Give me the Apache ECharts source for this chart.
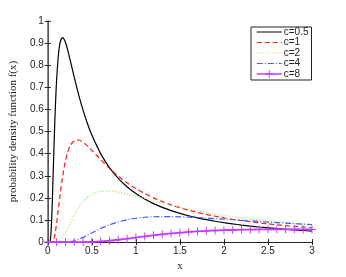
<!DOCTYPE html>
<html>
<head>
<meta charset="utf-8">
<script src="https://cdn.jsdelivr.net/npm/echarts@6/dist/echarts.min.js"></script>
<style>
html,body{margin:0;padding:0;background:#fff;}
#chart{width:346px;height:277px;}
</style>
</head>
<body>
<div id="chart"></div>
<script>
// x positions for the fine-sampled curves (c=0.5, c=1)
var xFine = [0, 0.02, 0.03, 0.04, 0.05, 0.06, 0.07, 0.08, 0.09, 0.10, 0.12, 0.14, 0.16, 0.17, 0.18, 0.20, 0.22, 0.25, 0.30, 0.35, 0.40, 0.45, 0.50,
  0.6, 0.7, 0.8, 0.9, 1.0, 1.1, 1.2, 1.3, 1.4, 1.5, 1.6, 1.7, 1.8, 1.9, 2.0, 2.1, 2.2, 2.3, 2.4, 2.5, 2.6, 2.7, 2.8, 2.9, 3.0];
var yC05 = [0, 0.0004, 0.0130, 0.0681, 0.170, 0.2976, 0.4282, 0.5478, 0.6496, 0.7322, 0.8450, 0.9028, 0.9239, 0.9247, 0.9211, 0.9036, 0.8775, 0.8302, 0.7461, 0.6669, 0.5968, 0.5362, 0.4839,
  0.4002, 0.3370, 0.2884, 0.2503, 0.2197, 0.1948, 0.1742, 0.1570, 0.1424, 0.1300, 0.1192, 0.1099, 0.1017, 0.0944, 0.0880, 0.0823, 0.0772, 0.0725, 0.0684, 0.0646, 0.0611, 0.0580, 0.0551, 0.0524, 0.0499];
var yC1 = [0, 0, 0, 0.0002, 0.0016, 0.0065, 0.0170, 0.0340, 0.0571, 0.0850, 0.1488, 0.2140, 0.2739, 0.3005, 0.3248, 0.3661, 0.3983, 0.4319, 0.4586, 0.4617, 0.4518, 0.4351, 0.4151,
  0.3731, 0.3335, 0.2984, 0.2681, 0.2420, 0.2195, 0.2001, 0.1832, 0.1685, 0.1556, 0.1442, 0.1341, 0.1251, 0.1171, 0.1098, 0.1033, 0.0974, 0.0920, 0.0871, 0.0826, 0.0785, 0.0747, 0.0712, 0.0680, 0.0650];

// x positions for the coarse-sampled curves (c=2, c=4, c=8)
var xCoarse = [0, 0.1, 0.2, 0.3, 0.4, 0.5, 0.6, 0.7, 0.8, 0.9, 1.0, 1.1, 1.2, 1.3, 1.4, 1.5, 1.6, 1.7, 1.8, 1.9, 2.0,
  2.1, 2.2, 2.3, 2.4, 2.5, 2.6, 2.7, 2.8, 2.9, 3.0];
var yC2 = [0, 0.0008, 0.0425, 0.1225, 0.1831, 0.2160, 0.2293, 0.2309, 0.2259, 0.2175, 0.2076, 0.1970, 0.1865, 0.1764, 0.1667, 0.1577, 0.1492, 0.1413, 0.1340, 0.1273, 0.1210,
  0.1152, 0.1097, 0.1047, 0.1000, 0.0957, 0.0916, 0.0878, 0.0842, 0.0809, 0.0778];
var yC4 = [0, 0, 0.0004, 0.0062, 0.0213, 0.0413, 0.0612, 0.0782, 0.0915, 0.1013, 0.1080, 0.1123, 0.1146, 0.1156, 0.1154, 0.1145, 0.1130, 0.1110, 0.1088, 0.1063, 0.1038,
  0.1012, 0.0985, 0.0959, 0.0933, 0.0907, 0.0882, 0.0857, 0.0834, 0.0811, 0.0788];
var yC8 = [0, 0, 0, 0, 0.0002, 0.0011, 0.0031, 0.0064, 0.0106, 0.0155, 0.0207, 0.0258, 0.0306, 0.0351, 0.0391, 0.0427, 0.0458, 0.0484, 0.0506, 0.0525, 0.0540,
  0.0552, 0.0561, 0.0568, 0.0573, 0.0576, 0.0578, 0.0578, 0.0577, 0.0575, 0.0572];

var seriesNames = ['c=0.5', 'c=1', 'c=2', 'c=4', 'c=8'];
var seriesColors = ['#000000', '#ff1a1a', '#8fe85a', '#3b5cff', '#c23cff'];
var xTicks = [0, 0.5, 1, 1.5, 2, 2.5, 3];
var yTicks = [0, 0.1, 0.2, 0.3, 0.4, 0.5, 0.6, 0.7, 0.8, 0.9, 1];

function pairs(xs, ys) { return xs.map(function (x, i) { return [x, ys[i]]; }); }

var dashTypes = ['solid', [5, 3], [1, 2], [6, 2, 1, 2], 'solid'];
var tickFont = { fontFamily: 'Liberation Sans', fontSize: 10, color: '#222' };
var chart = echarts.init(document.getElementById('chart'), null, { renderer: 'canvas' });

var baseX = {
  type: 'value', min: 0, max: 3, interval: 0.5,
  splitLine: { show: false },
  axisTick: { inside: true, length: 3, lineStyle: { color: '#222' } }
};
var baseY = {
  type: 'value', min: 0, max: 1, interval: 0.1,
  splitLine: { show: false },
  axisTick: { inside: true, length: 3, lineStyle: { color: '#222' } }
};

var legendData = seriesNames.map(function (n, i) {
  var item = { name: n, lineStyle: { color: seriesColors[i], width: i === 4 ? 1.5 : 1, type: dashTypes[i] } };
  if (i !== 4) item.itemStyle = { opacity: 0 };
  return item;
});

chart.setOption({
  animation: false,
  backgroundColor: '#fff',
  grid: { left: 45, right: 34, top: 21, bottom: 31, containLabel: false },
  legend: {
    data: legendData,
    orient: 'vertical',
    left: 251, top: 27,
    width: 58,
    padding: [0, 3, 1, 5],
    itemWidth: 25, itemHeight: 10, itemGap: 0.5,
    backgroundColor: '#fff',
    borderColor: '#222', borderWidth: 1,
    textStyle: { fontFamily: 'Liberation Sans', fontSize: 10, color: '#222', lineHeight: 10, padding: [0, 0, 0, -3] }
  },
  xAxis: [
    Object.assign({}, baseX, {
      position: 'bottom',
      name: 'x', nameLocation: 'middle', nameGap: 17,
      nameTextStyle: { fontFamily: 'Liberation Serif', fontSize: 11, color: '#222' },
      axisLine: { lineStyle: { color: '#222', width: 1 } },
      axisLabel: Object.assign({ margin: 4, formatter: function (v) { return xTicks.indexOf(v) >= 0 ? String(v) : ''; } }, tickFont)
    }),
    Object.assign({}, baseX, {
      position: 'top',
      axisLine: { lineStyle: { color: '#222', width: 1 } },
      axisLabel: { show: false }
    })
  ],
  yAxis: [
    Object.assign({}, baseY, {
      position: 'left',
      name: 'probability density function f(x)', nameLocation: 'middle', nameGap: 22,
      nameTextStyle: { fontFamily: 'Liberation Serif', fontSize: 11, color: '#222' },
      axisLine: { lineStyle: { color: '#888', width: 2 } },
      axisLabel: Object.assign({ margin: 4, formatter: function (v) {
        var r = Math.round(v * 10) / 10; return yTicks.indexOf(r) >= 0 ? String(r) : '';
      } }, tickFont)
    }),
    Object.assign({}, baseY, {
      position: 'right',
      axisLine: { lineStyle: { color: '#555', width: 1 } },
      axisLabel: { show: false }
    })
  ],
  series: [
    { name: 'c=0.5', type: 'line', xAxisIndex: 0, yAxisIndex: 0, smooth: 0.3, symbol: 'none',
      data: pairs(xFine, yC05), lineStyle: { color: seriesColors[0], width: 1.2, type: dashTypes[0] }, itemStyle: { color: seriesColors[0] } },
    { name: 'c=1', type: 'line', xAxisIndex: 0, yAxisIndex: 0, smooth: 0.3, symbol: 'none',
      data: pairs(xFine, yC1), lineStyle: { color: seriesColors[1], width: 1.2, type: dashTypes[1] }, itemStyle: { color: seriesColors[1] } },
    { name: 'c=2', type: 'line', xAxisIndex: 0, yAxisIndex: 0, smooth: 0.3, symbol: 'none',
      data: pairs(xCoarse, yC2), lineStyle: { color: seriesColors[2], width: 1.2, type: dashTypes[2] }, itemStyle: { color: seriesColors[2] } },
    { name: 'c=4', type: 'line', xAxisIndex: 0, yAxisIndex: 0, smooth: 0.3, symbol: 'none',
      data: pairs(xCoarse, yC4), lineStyle: { color: seriesColors[3], width: 1.2, type: dashTypes[3] }, itemStyle: { color: seriesColors[3] } },
    { name: 'c=8', type: 'line', xAxisIndex: 0, yAxisIndex: 0, smooth: 0.3,
      symbol: 'path://M4.4,0H5.6V4.4H10V5.6H5.6V10H4.4V5.6H0V4.4H4.4Z', symbolSize: 8, showSymbol: true,
      data: pairs(xCoarse, yC8), lineStyle: { color: seriesColors[4], width: 1.8, type: dashTypes[4] }, itemStyle: { color: seriesColors[4] } }
  ]
});
</script>
</body>
</html>
